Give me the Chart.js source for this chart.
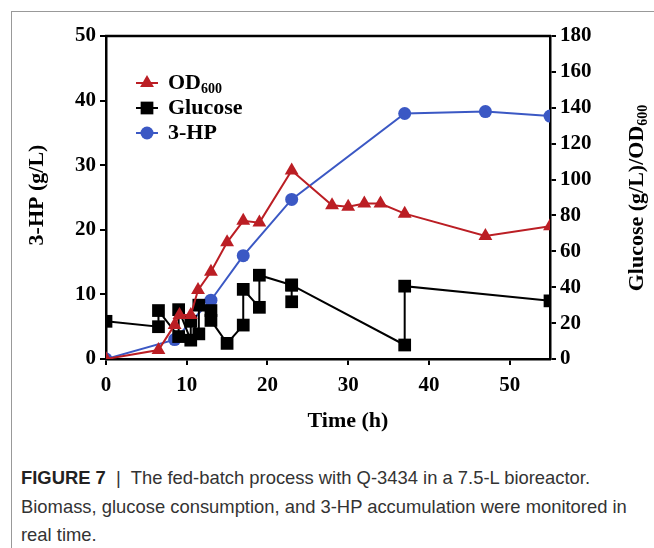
<!DOCTYPE html>
<html lang="en">
  <head>
    <meta charset="UTF-8" />
    <title>Fed-batch process with Q-3434</title>
    <script src="https://cdn.jsdelivr.net/npm/chart.js@4"></script>
    <style>
      body { margin: 0; background: #fff; width: 654px; height: 548px; overflow: hidden; position: relative; }
      .frame { position: absolute; left: 11px; top: 11px; width: 700px; height: 600px; border-left: 1px solid #999; border-top: 1px solid #999; }
      .chart-box { position: absolute; left: 0; top: 0; }
      .caption { position: absolute; left: 21px; top: 464px; font-family: "Liberation Sans", Arial, sans-serif; font-size: 18.4px; line-height: 28.5px; color: #333; white-space: nowrap; }
      .caption b { color: #222; }
    </style>
  </head>

  <body>
    <div class="frame"></div>
    <div class="chart-box">
      <canvas id="fedBatchChart" width="654" height="440"></canvas>
    </div>
    <div class="caption">
      <b>FIGURE 7</b> &nbsp;|&nbsp; The fed-batch process with Q-3434 in a 7.5-L bioreactor.<br />
      Biomass, glucose consumption, and 3-HP accumulation were monitored in<br />
      real time.
    </div>

    <script>
      // time (h) and values
      const hpTimes = [0, 8.5, 13, 17, 23, 37, 47, 55];
      const hpValues = [0, 3, 9.1, 16, 24.7, 38, 38.3, 37.6];

      const odTimes = [0, 6.5, 8.5, 9.1, 10.5, 11.4, 13, 15, 17, 19, 23, 28, 30, 32, 34, 37, 47, 55];
      const odValues = [0, 5, 19, 24.5, 24.5, 38.4, 48.6, 65, 77, 76, 105, 85.7, 84.8, 86.6, 86.6, 81, 68.6, 74];

      const glcTimes = [0, 6.5, 6.5, 9, 9, 10.5, 10.5, 11.5, 11.5, 13, 13, 15, 17, 17, 19, 19, 23, 23, 23, 37, 37, 55];
      const glcValues = [21, 18, 27, 12.5, 27.5, 10.5, 21, 14, 30, 27, 21.5, 8.7, 18.9, 38.8, 28.8, 46.7, 41.2, 31.9, 41.2, 7.8, 40.6, 32.4];

      const xTicks = [0, 10, 20, 30, 40, 50];

      const RED = "#bb1e24";
      const BLUE = "#3b58c4";
      const BLACK = "#000000";
      const SERIF = '"Liberation Serif", "Times New Roman", serif';

      const toPoints = (xs, ys) => xs.map((x, i) => ({ x: x, y: ys[i] }));

      const legendItems = [
        { label: "OD", sub: "600", color: RED, style: "triangle", radius: 8 },
        { label: "Glucose", sub: "", color: BLACK, style: "rect", radius: 9 },
        { label: "3-HP", sub: "", color: BLUE, style: "circle", radius: 6.5 },
      ];

      const decorations = {
        id: "decorations",
        afterDraw(chart) {
          const ctx = chart.ctx;
          const area = chart.chartArea;
          ctx.save();

          // top frame line
          ctx.strokeStyle = "#000";
          ctx.lineWidth = 2.5;
          ctx.beginPath();
          ctx.moveTo(area.left - 1, area.top);
          ctx.lineTo(area.right + 1, area.top);
          ctx.stroke();

          // legend
          let ly = 83;
          legendItems.forEach((item) => {
            ctx.strokeStyle = item.color;
            ctx.fillStyle = item.color;
            ctx.lineWidth = 2;
            ctx.beginPath();
            ctx.moveTo(136, ly);
            ctx.lineTo(158, ly);
            ctx.stroke();
            Chart.helpers.drawPoint(ctx, { pointStyle: item.style, radius: item.radius, rotation: 0, borderWidth: 0 }, 147, ly);
            ctx.fillStyle = "#000";
            ctx.font = "bold 22px " + SERIF;
            ctx.textAlign = "left";
            ctx.textBaseline = "middle";
            ctx.fillText(item.label, 168, ly);
            if (item.sub) {
              const w = ctx.measureText(item.label).width;
              ctx.font = "bold 14px " + SERIF;
              ctx.fillText(item.sub, 168 + w, ly + 6);
            }
            ly += 25;
          });

          // axis titles
          ctx.fillStyle = "#000";
          ctx.textBaseline = "middle";
          ctx.font = "bold 22px " + SERIF;
          ctx.textAlign = "center";
          ctx.fillText("Time (h)", 348, 421);

          ctx.save();
          ctx.translate(37, 195);
          ctx.rotate(-Math.PI / 2);
          ctx.fillText("3-HP (g/L)", 0, 0);
          ctx.restore();

          // right title centred on the axis, with subscript
          const main = "Glucose (g/L)/OD";
          const mw = ctx.measureText(main).width;
          ctx.font = "bold 14px " + SERIF;
          const sw = ctx.measureText("600").width;
          ctx.save();
          ctx.translate(637, 198 + (mw + sw) / 2);
          ctx.rotate(-Math.PI / 2);
          ctx.textAlign = "left";
          ctx.font = "bold 22px " + SERIF;
          ctx.fillText(main, 0, 0);
          ctx.font = "bold 14px " + SERIF;
          ctx.fillText("600", mw, 6);
          ctx.restore();

          ctx.restore();
        },
      };

      const axisGrid = { drawOnChartArea: false, drawTicks: true, tickLength: 6, color: "#000", lineWidth: 2 };
      const axisBorder = { display: true, color: "#000", width: 2.5 };
      const tickFont = { family: SERIF, size: 21, weight: "bold" };

      new Chart(document.getElementById("fedBatchChart"), {
        type: "line",
        data: {
          datasets: [
            {
              label: "OD600",
              data: toPoints(odTimes, odValues),
              yAxisID: "y2",
              borderColor: RED,
              backgroundColor: RED,
              borderWidth: 2,
              pointStyle: "triangle",
              pointRadius: 8,
              pointBorderWidth: 0,
              order: 0,
            },
            {
              label: "Glucose",
              data: toPoints(glcTimes, glcValues),
              yAxisID: "y2",
              borderColor: BLACK,
              backgroundColor: BLACK,
              borderWidth: 2,
              pointStyle: "rect",
              pointRadius: 9,
              pointBorderWidth: 0,
              order: 1,
            },
            {
              label: "3-HP",
              data: toPoints(hpTimes, hpValues),
              yAxisID: "y",
              borderColor: BLUE,
              backgroundColor: BLUE,
              borderWidth: 2,
              pointStyle: "circle",
              pointRadius: 6.5,
              pointBorderWidth: 0,
              order: 2,
            },
          ],
        },
        options: {
          responsive: false,
          animation: false,
          layout: { padding: { top: 36, left: 0, right: 0, bottom: 0 } },
          plugins: { legend: { display: false }, tooltip: { enabled: false } },
          elements: { line: { tension: 0 } },
          scales: {
            x: {
              type: "linear",
              min: 0,
              max: 55,
              afterBuildTicks: (scale) => {
                scale.ticks = xTicks.map((v) => ({ value: v }));
              },
              ticks: { font: tickFont, color: "#000", padding: 8 },
              grid: axisGrid,
              border: axisBorder,
              afterFit: (scale) => {
                scale.height = 81;
              },
            },
            y: {
              position: "left",
              min: 0,
              max: 50,
              ticks: { stepSize: 10, font: tickFont, color: "#000", padding: 4 },
              grid: axisGrid,
              border: axisBorder,
              afterFit: (scale) => {
                scale.width = 106;
              },
            },
            y2: {
              position: "right",
              min: 0,
              max: 180,
              ticks: { stepSize: 20, font: tickFont, color: "#000", padding: 4 },
              grid: axisGrid,
              border: axisBorder,
              afterFit: (scale) => {
                scale.width = 104;
              },
            },
          },
        },
        plugins: [decorations],
      });
    </script>
  </body>
</html>
